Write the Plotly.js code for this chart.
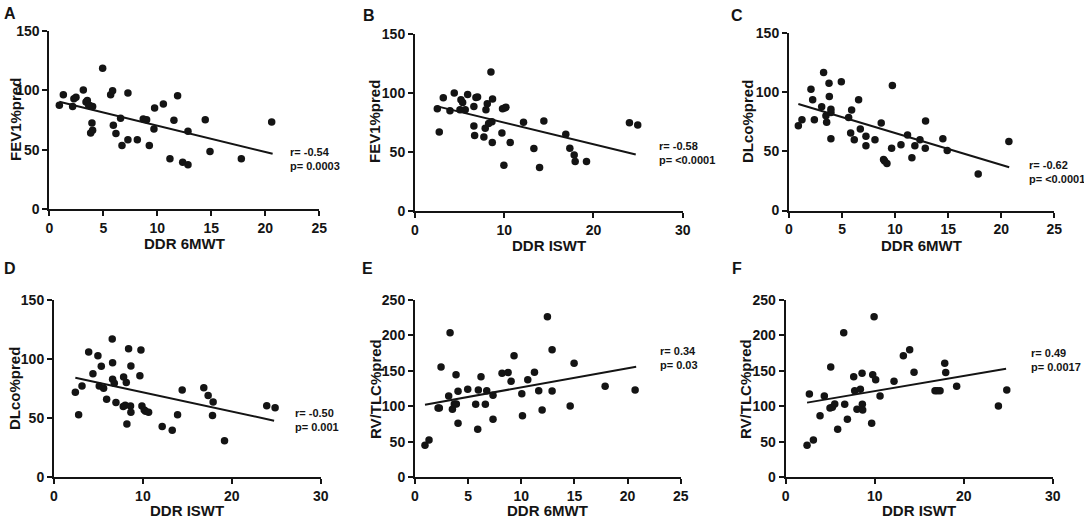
<!DOCTYPE html>
<html>
<head>
<meta charset="utf-8">
<script src="https://cdn.plot.ly/plotly-3.0.1.min.js"></script>
<style>html,body{margin:0;padding:0;background:#fff;}#chart{width:1084px;height:518px;}</style>
</head>
<body>
<div id="chart"></div>
<script>
// Panel A: FEV1%pred vs DDR 6MWT
const aX = [0.93,1.30,2.16,2.28,2.47,3.15,3.40,3.52,3.64,3.77,4.01,3.95,4.01,3.83,4.94,5.68,5.86,5.93,6.17,6.60,6.73,7.28,7.28,8.15,8.70,9.01,9.26,9.69,9.75,10.56,11.17,11.54,11.88,12.35,12.84,12.84,14.44,14.88,17.78,20.59];
const aY = [87.3,96.2,86.4,92.8,94.2,100.1,90.1,91.4,87.5,87.0,86.4,72.5,66.4,64.1,118.5,96.2,99.5,70.5,63.6,76.4,53.5,97.6,58.5,58.5,75.8,75.3,53.5,67.5,85.0,88.4,42.4,74.7,95.4,39.6,37.4,65.5,75.3,48.5,42.4,73.3];
const aFitX = [0.93,20.68];
const aFitY = [90.3,46.6];

// Panel B: FEV1%pred vs DDR ISWT
const bX = [2.50,2.72,3.17,3.92,4.40,5.04,5.15,5.34,5.63,5.90,6.60,6.60,6.68,6.83,7.01,7.72,7.87,7.95,8.10,8.25,8.51,8.62,8.69,8.66,9.74,9.81,10.04,10.19,9.96,10.67,12.16,13.32,13.96,14.44,16.90,17.35,17.84,17.95,19.22,24.03,24.96];
const bY = [86.8,67.1,96.1,85.2,100.1,86.0,94.5,92.2,86.0,99.0,88.8,72.2,64.0,96.4,96.7,62.9,70.2,86.0,91.1,74.2,118.1,75.8,95.0,58.1,66.3,86.8,87.4,88.0,38.9,58.1,75.3,53.0,36.9,76.4,65.1,53.3,47.6,42.0,42.0,75.0,73.0];
const bFitX = [2.50,24.74];
const bFitY = [88.8,47.9];

// Panel C: DLco%pred vs DDR 6MWT
const cX = [0.88,1.22,2.07,2.23,2.39,3.08,3.26,3.48,3.55,3.77,3.80,3.95,3.95,3.95,4.93,5.62,5.81,5.90,6.15,6.56,6.72,7.25,7.25,8.10,8.69,8.91,9.01,9.23,9.67,9.74,10.55,11.17,11.58,11.86,12.34,12.84,12.87,14.50,14.91,17.83,20.72];
const cY = [71.8,76.8,102.7,93.7,76.8,87.8,116.8,80.2,74.6,107.8,96.5,85.8,83.0,60.8,108.9,78.8,65.6,85.0,59.9,93.7,68.9,62.8,54.9,59.9,74.0,43.1,41.9,39.7,52.6,105.8,55.7,63.9,44.7,54.9,59.9,52.6,75.7,60.8,50.7,31.0,58.5];
const cFitX = [0.88,20.75];
const cFitY = [90.1,36.6];

// Panel D: DLco%pred vs DDR ISWT
const dX = [2.40,2.77,3.15,3.90,4.38,4.94,5.09,5.32,5.58,5.92,6.55,6.59,6.59,6.78,6.97,7.79,7.83,8.01,8.13,8.20,8.39,8.61,8.65,8.65,9.66,9.78,9.89,10.15,10.30,10.64,12.17,13.30,13.90,14.42,16.85,17.34,17.83,17.90,19.18,23.93,24.87];
const dY = [71.9,53.0,77.3,106.0,87.7,102.9,77.3,93.9,75.3,66.0,117.0,97.0,82.9,79.5,63.2,59.8,84.9,60.9,80.1,45.1,108.8,60.3,55.0,94.2,86.0,107.7,60.3,57.0,55.8,55.0,42.9,39.8,53.0,73.9,75.8,69.1,52.2,63.7,31.0,60.6,58.9];
const dFitX = [2.40,24.76];
const dFitY = [84.3,47.9];

// Panel E: RV/TLC%pred vs DDR 6MWT
const eX = [0.94,1.32,2.17,2.29,2.45,3.17,3.30,3.52,3.70,3.89,3.86,4.05,4.05,4.96,5.71,5.90,5.96,6.21,6.62,6.75,7.34,7.34,8.19,8.76,9.04,9.32,10.05,10.11,10.61,11.24,11.64,11.96,12.46,12.90,12.90,14.60,14.97,17.89,20.71];
const eY = [45.1,52.6,97.7,97.7,155.5,114.7,203.9,95.9,103.4,103.4,144.7,121.2,76.1,124.1,102.9,67.7,123.1,141.9,102.9,122.2,115.6,81.8,146.6,147.6,135.3,171.5,117.9,86.9,137.7,148.0,122.2,94.9,226.5,180.0,121.7,100.6,160.7,128.3,123.1];
const eFitX = [0.94,20.81];
const eFitY = [102.4,156.0];

// Panel F: RV/TLC%pred vs DDR ISWT
const fX = [2.40,2.66,3.11,3.86,4.34,5.06,4.98,5.24,5.51,5.84,6.52,6.63,6.93,7.64,7.75,8.01,8.39,8.58,8.61,8.65,9.66,9.78,9.93,10.11,10.60,12.17,13.22,13.93,14.42,16.78,17.04,17.34,17.87,17.98,19.21,23.90,24.84];
const fY = [45.1,117.5,52.6,86.9,114.7,155.5,97.7,98.7,103.4,67.7,203.9,102.9,81.8,141.9,122.2,95.9,124.1,146.6,102.9,94.9,76.1,144.7,226.5,137.7,114.7,135.3,171.5,180.0,148.0,122.2,122.2,122.2,160.7,147.6,128.3,100.6,123.1];
const fFitX = [2.40,24.76];
const fFitY = [105.3,153.2];

const panelLetters = ['A','B','C','D','E','F'];
const yTitles = ['FEV1%pred','FEV1%pred','DLco%pred','DLco%pred','RV/TLC%pred','RV/TLC%pred'];
const xTitles = ['DDR 6MWT','DDR ISWT','DDR 6MWT','DDR ISWT','DDR 6MWT','DDR ISWT'];
const statR = ['r= -0.54','r= -0.58','r= -0.62','r= -0.50','r= 0.34','r= 0.49'];
const statP = ['p= 0.0003','p= <0.0001','p= <0.0001','p= 0.001','p= 0.03','p= 0.0017'];
const xTicks6MWT = [0,5,10,15,20,25];
const xTicksISWT = [0,10,20,30];
const yTicks150 = [0,50,100,150];
const yTicks250 = [0,50,100,150,200,250];

const W = 1084, H = 518;
const FONT = 'Liberation Sans, Arial, Helvetica, sans-serif';
const INK = '#141414';

const xTickSets = [xTicks6MWT,xTicksISWT,xTicks6MWT,xTicksISWT,xTicks6MWT,xTicksISWT];
const yTickSets = [yTicks150,yTicks150,yTicks150,yTicks150,yTicks250,yTicks250];

// pixel geometry of each panel: [x0, x1, yTop, yBottom]
const boxes = [
  [49.3, 319.3, 30.7, 209.3],
  [415.0, 682.7, 34.3, 211.0],
  [789.0, 1054.3, 33.3, 210.5],
  [54.0, 320.7, 300.0, 477.3],
  [415.0, 680.7, 300.0, 477.3],
  [785.7, 1052.7, 300.0, 477.3]
];
const letterPos = [[10,14],[369,15],[737,15],[10,268],[367,268],[737,268]];
const yTitlePos = [[16,120],[375,122],[748,122],[14,389],[375,389],[745,389]];
const xTitleY = [244,245,245.5,510,510,510];
const statPos = [[288,159],[657,153],[1027,172],[293,420],[658,358],[1029,360]];

const dataX = [aX,bX,cX,dX,eX,fX];
const dataY = [aY,bY,cY,dY,eY,fY];
const fitX = [aFitX,bFitX,cFitX,dFitX,eFitX,fFitX];
const fitY = [aFitY,bFitY,cFitY,dFitY,eFitY,fFitY];

const traces = [];
const layout = {
  width: W, height: H,
  margin: {l:0,r:0,t:0,b:0},
  paper_bgcolor: '#fff', plot_bgcolor: 'rgba(0,0,0,0)',
  showlegend: false,
  font: {family: FONT, color: INK},
  annotations: []
};
const px = v => v / W;
const py = v => 1 - v / H;
const boldLabels = arr => arr.map(v => '<b>' + v + '</b>');

for (let i = 0; i < 6; i++) {
  const n = i === 0 ? '' : String(i + 1);
  const b = boxes[i];
  const xt = xTickSets[i], yt = yTickSets[i];
  traces.push({
    x: dataX[i], y: dataY[i], xaxis: 'x' + n, yaxis: 'y' + n,
    type: 'scatter', mode: 'markers', cliponaxis: false,
    marker: {size: 7.5, color: INK, line: {width: 0}}
  });
  traces.push({
    x: fitX[i], y: fitY[i], xaxis: 'x' + n, yaxis: 'y' + n,
    type: 'scatter', mode: 'lines', cliponaxis: false,
    line: {color: INK, width: 2}
  });
  const axCommon = {
    showgrid: false, zeroline: false, showline: true, linecolor: INK, linewidth: 2,
    ticks: 'outside', ticklen: 5, tickwidth: 2, tickcolor: INK,
    tickfont: {family: FONT, size: 14, color: INK},
    fixedrange: true
  };
  layout['xaxis' + n] = Object.assign({}, axCommon, {
    domain: [px(b[0]), px(b[1])], range: [xt[0], xt[xt.length - 1]], anchor: 'y' + n,
    tickmode: 'array', tickvals: xt, ticktext: boldLabels(xt)
  });
  layout['yaxis' + n] = Object.assign({}, axCommon, {
    domain: [py(b[3]), py(b[2])], range: [yt[0], yt[yt.length - 1]], anchor: 'x' + n,
    tickmode: 'array', tickvals: yt, ticktext: boldLabels(yt)
  });
  layout.annotations.push({
    xref: 'paper', yref: 'paper', x: px(letterPos[i][0]), y: py(letterPos[i][1]),
    xanchor: 'center', yanchor: 'middle', showarrow: false,
    text: '<b>' + panelLetters[i] + '</b>', font: {family: FONT, size: 16, color: INK}
  });
  layout.annotations.push({
    xref: 'paper', yref: 'paper', x: px(yTitlePos[i][0]), y: py(yTitlePos[i][1]),
    xanchor: 'center', yanchor: 'middle', showarrow: false, textangle: -90,
    text: '<b>' + yTitles[i] + '</b>', font: {family: FONT, size: 15, color: INK}
  });
  layout.annotations.push({
    xref: 'paper', yref: 'paper', x: px((b[0] + b[1]) / 2), y: py(xTitleY[i]),
    xanchor: 'center', yanchor: 'middle', showarrow: false,
    text: '<b>' + xTitles[i] + '</b>', font: {family: FONT, size: 15, color: INK}
  });
  layout.annotations.push({
    xref: 'paper', yref: 'paper', x: px(statPos[i][0]), y: py(statPos[i][1]),
    xanchor: 'left', yanchor: 'middle', align: 'left', showarrow: false,
    text: '<b>' + statR[i] + '<br>' + statP[i] + '</b>', font: {family: FONT, size: 11, color: INK}
  });
}

Plotly.newPlot('chart', traces, layout, {displayModeBar: false, staticPlot: true});
</script>
</body>
</html>
